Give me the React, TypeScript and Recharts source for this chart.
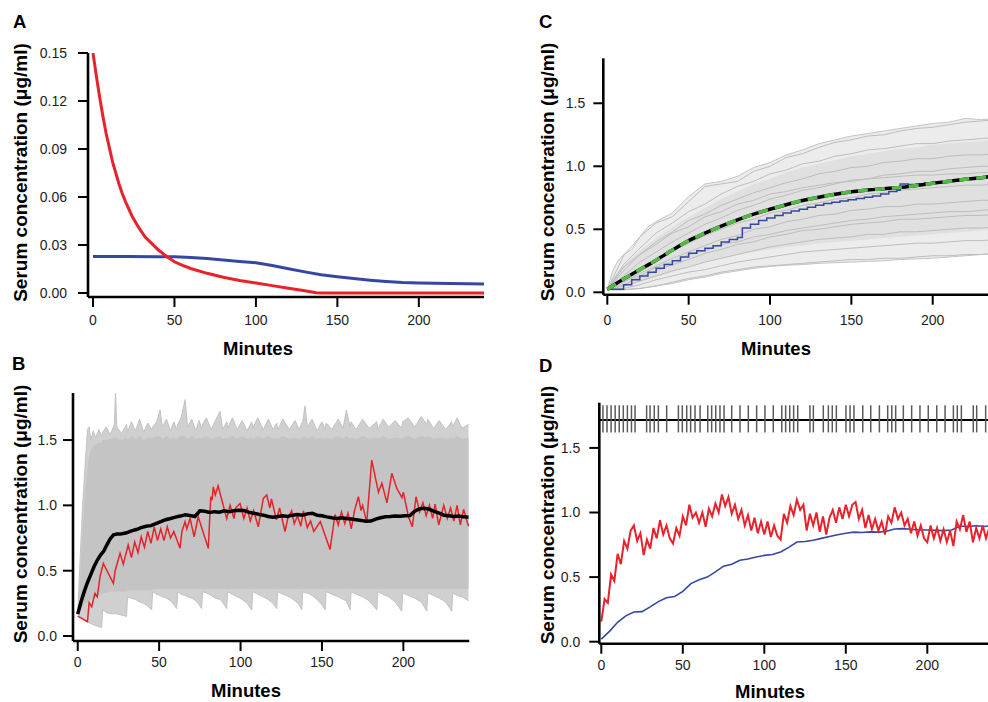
import React from "react";
import { ComposedChart, Line, Area, XAxis, YAxis, ReferenceLine } from "recharts";

type Pt = [number, number];

const FONT = '"Liberation Sans", Arial, Helvetica, sans-serif';
const RED = "#e8222b";
const BLUE = "#3647a3";
const GREEN = "#55b848";

const minuteTicks = [0, 50, 100, 150, 200];

// ---- Panel A: deterministic decay curves
const aTicks = [0, 0.03, 0.06, 0.09, 0.12, 0.15];
const aRed: Pt[] = [
  [0, 0.15], [2, 0.136], [4, 0.123], [6, 0.111], [8, 0.1], [10, 0.091], [12, 0.082],
  [14, 0.075], [16, 0.068], [18, 0.062], [20, 0.057], [24, 0.048], [28, 0.041],
  [32, 0.035], [36, 0.031], [40, 0.027], [45, 0.023], [50, 0.0195], [55, 0.0172],
  [60, 0.0153], [70, 0.0123], [80, 0.0098], [90, 0.0078], [100, 0.0062], [110, 0.0046],
  [120, 0.003], [130, 0.0014], [137, 0.0002], [140, 0], [160, 0], [200, 0], [240, 0],
];
const aBlue: Pt[] = [
  [0, 0.0228], [20, 0.0228], [40, 0.0227], [50, 0.0226], [60, 0.0222], [70, 0.0215],
  [80, 0.0207], [90, 0.0197], [100, 0.0189], [110, 0.0172], [120, 0.0152], [130, 0.0132],
  [140, 0.0114], [150, 0.0101], [160, 0.009], [170, 0.008], [180, 0.0072], [190, 0.0066],
  [200, 0.0063], [220, 0.0059], [240, 0.0056],
];

// ---- Panel B: simulated runs (envelope), mean, one run
const concTicks = [0, 0.5, 1, 1.5];
// t, outer low, outer high, dense low, dense high
const bBand: number[][] = [
  [0, 0.165, 0.18, 0.17, 0.175], [1.5, 0.15, 0.6, 0.19, 0.45], [3, 0.14, 1.0, 0.22, 0.8],
  [4.5, 0.125, 1.3, 0.25, 1.1], [6, 0.11, 1.58, 0.26, 1.3], [7, 0.1, 1.6, 0.27, 1.38],
  [8, 0.095, 1.5, 0.28, 1.42], [9.5, 0.088, 1.57, 0.29, 1.45], [11, 0.08, 1.52, 0.3, 1.47],
  [13, 0.072, 1.58, 0.31, 1.48], [14.7, 0.065, 1.53, 0.32, 1.48], [15.3, 0.2, 1.56, 0.33, 1.5],
  [17.5, 0.18, 1.6, 0.33, 1.5], [20, 0.17, 1.54, 0.34, 1.51], [22.5, 0.17, 1.62, 0.34, 1.52],
  [23.2, 0.17, 1.87, 0.34, 1.52], [24, 0.17, 1.6, 0.34, 1.52], [27, 0.16, 1.55, 0.34, 1.5],
  [30, 0.15, 1.62, 0.34, 1.52], [30.6, 0.3, 1.56, 0.35, 1.5], [33, 0.29, 1.64, 0.35, 1.53],
  [35.5, 0.28, 1.57, 0.35, 1.51], [38, 0.26, 1.66, 0.35, 1.53], [40.5, 0.25, 1.56, 0.35, 1.5],
  [43, 0.23, 1.63, 0.35, 1.52], [45.4, 0.2, 1.58, 0.35, 1.51], [46, 0.34, 1.6, 0.36, 1.52],
  [48.5, 0.32, 1.64, 0.36, 1.53], [50.6, 0.31, 1.73, 0.36, 1.53], [52, 0.3, 1.6, 0.36, 1.51],
  [54.5, 0.29, 1.66, 0.36, 1.53], [57, 0.27, 1.57, 0.36, 1.51], [59, 0.24, 1.64, 0.36, 1.52],
  [60.8, 0.21, 1.58, 0.36, 1.51], [61.4, 0.34, 1.62, 0.36, 1.52], [63.5, 0.32, 1.67, 0.36, 1.53],
  [66, 0.31, 1.81, 0.36, 1.53], [67.5, 0.3, 1.6, 0.36, 1.51], [70, 0.29, 1.66, 0.36, 1.53],
  [72.5, 0.27, 1.57, 0.36, 1.51], [74.5, 0.24, 1.65, 0.36, 1.52], [76.1, 0.21, 1.59, 0.36, 1.51],
  [76.7, 0.34, 1.62, 0.36, 1.52], [79, 0.33, 1.67, 0.36, 1.53], [82, 0.31, 1.58, 0.36, 1.51],
  [84.5, 0.29, 1.65, 0.36, 1.52], [87.4, 0.28, 1.72, 0.36, 1.53], [89, 0.26, 1.58, 0.36, 1.51],
  [91.5, 0.21, 1.64, 0.36, 1.52], [92.1, 0.34, 1.59, 0.36, 1.51], [95, 0.32, 1.67, 0.36, 1.53],
  [98, 0.3, 1.58, 0.36, 1.51], [101, 0.28, 1.65, 0.36, 1.53], [104, 0.25, 1.57, 0.36, 1.51],
  [106.9, 0.2, 1.64, 0.36, 1.52], [107.5, 0.34, 1.59, 0.36, 1.51], [110.5, 0.32, 1.67, 0.36, 1.53],
  [114, 0.3, 1.58, 0.36, 1.51], [117, 0.28, 1.66, 0.36, 1.53], [120, 0.25, 1.58, 0.36, 1.51],
  [122.2, 0.21, 1.63, 0.36, 1.52], [122.8, 0.34, 1.58, 0.36, 1.51], [126, 0.32, 1.66, 0.36, 1.53],
  [130, 0.3, 1.58, 0.36, 1.51], [133.5, 0.27, 1.65, 0.36, 1.52], [136, 0.24, 1.58, 0.36, 1.51],
  [137.6, 0.2, 1.63, 0.36, 1.52], [138.2, 0.34, 1.64, 0.36, 1.52], [139.6, 0.33, 1.76, 0.36, 1.53],
  [141, 0.33, 1.6, 0.36, 1.51], [144, 0.31, 1.66, 0.36, 1.53], [147, 0.28, 1.57, 0.36, 1.51],
  [150, 0.24, 1.64, 0.36, 1.52], [152, 0.2, 1.58, 0.36, 1.51], [152.6, 0.34, 1.63, 0.36, 1.52],
  [156, 0.32, 1.58, 0.36, 1.51], [160, 0.3, 1.66, 0.36, 1.53], [163, 0.28, 1.59, 0.36, 1.51],
  [165, 0.27, 1.73, 0.36, 1.53], [167.3, 0.2, 1.6, 0.36, 1.51], [167.9, 0.34, 1.64, 0.36, 1.52],
  [171, 0.32, 1.58, 0.36, 1.51], [175, 0.3, 1.66, 0.36, 1.53], [179, 0.27, 1.59, 0.36, 1.51],
  [183.7, 0.2, 1.64, 0.36, 1.52], [184.3, 0.34, 1.58, 0.36, 1.51], [187.5, 0.32, 1.66, 0.36, 1.53],
  [191, 0.3, 1.6, 0.36, 1.51], [195, 0.26, 1.65, 0.36, 1.52], [199, 0.19, 1.59, 0.36, 1.51],
  [199.6, 0.33, 1.64, 0.36, 1.52], [203, 0.31, 1.67, 0.36, 1.53], [207, 0.29, 1.6, 0.36, 1.51],
  [211, 0.26, 1.68, 0.36, 1.53], [214.4, 0.19, 1.62, 0.36, 1.52], [215, 0.33, 1.66, 0.36, 1.53],
  [218.5, 0.31, 1.59, 0.36, 1.51], [222, 0.29, 1.65, 0.36, 1.52], [226, 0.26, 1.58, 0.36, 1.51],
  [229.7, 0.19, 1.64, 0.36, 1.52], [230.3, 0.33, 1.6, 0.36, 1.51], [233, 0.31, 1.67, 0.36, 1.53],
  [236, 0.3, 1.59, 0.36, 1.51], [240, 0.27, 1.62, 0.36, 1.52],
];
const bMean: Pt[] = [
  [0, 0.168], [2, 0.26], [4, 0.34], [6, 0.41], [8, 0.47], [10, 0.53], [12, 0.58], [14, 0.62],
  [16, 0.65], [18, 0.7], [20, 0.745], [22, 0.775], [24, 0.78], [26, 0.78], [28, 0.785],
  [30, 0.79], [33, 0.805], [36, 0.815], [39, 0.83], [42, 0.84], [45, 0.845], [48, 0.86],
  [51, 0.875], [54, 0.89], [57, 0.9], [60, 0.91], [63, 0.918], [66, 0.928], [69, 0.922],
  [72, 0.915], [75, 0.958], [78, 0.955], [81, 0.945], [84, 0.952], [87, 0.948], [90, 0.958],
  [93, 0.952], [96, 0.958], [99, 0.962], [102, 0.96], [105, 0.948], [108, 0.94], [111, 0.932],
  [114, 0.925], [117, 0.915], [120, 0.91], [123, 0.915], [126, 0.92], [129, 0.915],
  [132, 0.925], [135, 0.93], [138, 0.925], [141, 0.935], [144, 0.94], [147, 0.925],
  [150, 0.92], [153, 0.912], [156, 0.905], [159, 0.9], [162, 0.905], [165, 0.9], [168, 0.895],
  [171, 0.89], [174, 0.885], [177, 0.878], [180, 0.88], [183, 0.895], [186, 0.905],
  [189, 0.913], [192, 0.915], [195, 0.918], [198, 0.916], [201, 0.92], [204, 0.922],
  [207, 0.955], [210, 0.975], [213, 0.978], [216, 0.97], [219, 0.955], [222, 0.94],
  [225, 0.925], [228, 0.92], [231, 0.915], [234, 0.918], [237, 0.912], [240, 0.91],
];
const bRed: Pt[] = [
  [0, 0.153], [6, 0.11], [7, 0.255], [8.6, 0.225], [10.6, 0.327], [12, 0.3], [13.7, 0.454],
  [15.7, 0.556], [21.9, 0.403], [23, 0.5], [26, 0.633], [28, 0.55], [29, 0.6], [31, 0.696],
  [33, 0.6], [35, 0.72], [37, 0.64], [39, 0.76], [41, 0.68], [43, 0.8], [45, 0.71],
  [47, 0.836], [49, 0.73], [51, 0.82], [53, 0.73], [55, 0.836], [57, 0.75], [59, 0.8],
  [62.8, 0.671], [64, 0.8], [65.9, 0.875], [67, 0.82], [69, 0.9], [71.5, 0.76], [74, 0.913],
  [80.2, 0.671], [81.7, 1.066], [82.5, 1.04], [83.3, 1.142], [84.5, 1.08], [86.2, 1.15],
  [91.5, 0.9], [93.6, 1.0], [96, 0.9], [97, 0.98], [99.7, 1.015], [102, 0.9], [104, 0.98],
  [106, 0.88], [108, 0.96], [110.9, 0.836], [114, 1.053], [116.1, 1.079], [118, 0.98],
  [119, 1.05], [122, 0.89], [124, 0.98], [127.3, 0.8], [129, 0.9], [131.4, 0.958], [133, 0.86],
  [135, 0.92], [137, 0.84], [138.6, 0.958], [141, 0.83], [143, 0.88], [145, 0.8], [149, 0.875],
  [155, 0.663], [158, 0.93], [160, 0.85], [162, 0.95], [164, 0.86], [166, 0.94], [168, 0.82],
  [170, 0.96], [172.4, 1.066], [174, 0.96], [175, 1.0], [177.5, 0.87], [180.6, 1.347],
  [184.7, 1.1], [186.8, 1.17], [189.9, 1.02], [192.9, 1.245], [196, 1.13], [199.1, 1.06],
  [200, 1.1], [203.2, 0.908], [205.5, 0.836], [207.8, 1.066], [210, 0.95], [212, 1.02],
  [214, 0.92], [216, 1.0], [218, 0.9], [219.5, 1.01], [221.7, 0.85], [224.8, 1.0],
  [227, 0.9], [229, 0.98], [231, 0.88], [233, 1.0], [235, 0.85], [237, 0.97], [240, 0.84],
];

// ---- Panel C: slow-release runs
const cTimes = [0, 10, 20, 30, 40, 50, 60, 70, 80, 90, 100, 110, 120, 130, 140, 150, 160, 170, 180, 190, 200, 210, 220, 230, 240];
// t, outer low, outer high, dense low, dense high
const cBand: number[][] = [
  [0, 0.02, 0.02, 0.02, 0.02], [3, 0.02, 0.16, 0.025, 0.1], [6, 0.02, 0.24, 0.03, 0.16],
  [10, 0.02, 0.3, 0.04, 0.21], [15, 0.025, 0.34, 0.06, 0.27], [20, 0.03, 0.44, 0.08, 0.33],
  [25, 0.04, 0.52, 0.1, 0.38], [30, 0.05, 0.56, 0.12, 0.43], [40, 0.07, 0.63, 0.16, 0.52],
  [50, 0.1, 0.76, 0.2, 0.6], [60, 0.12, 0.86, 0.24, 0.67], [70, 0.15, 0.88, 0.27, 0.74],
  [80, 0.17, 0.92, 0.3, 0.8], [90, 0.19, 0.99, 0.32, 0.86], [100, 0.205, 1.03, 0.34, 0.9],
  [110, 0.215, 1.09, 0.36, 0.95], [120, 0.22, 1.13, 0.37, 0.99], [130, 0.23, 1.18, 0.39, 1.02],
  [140, 0.235, 1.21, 0.4, 1.05], [150, 0.24, 1.24, 0.41, 1.08], [160, 0.245, 1.26, 0.42, 1.1],
  [170, 0.25, 1.28, 0.43, 1.12], [180, 0.26, 1.3, 0.44, 1.14], [190, 0.265, 1.32, 0.45, 1.15],
  [200, 0.27, 1.34, 0.46, 1.17], [210, 0.28, 1.35, 0.47, 1.18], [220, 0.29, 1.38, 0.48, 1.19],
  [230, 0.3, 1.37, 0.49, 1.2], [240, 0.305, 1.38, 0.5, 1.21],
];
const cGrey1 = [0.02, 0.29, 0.44, 0.55, 0.6, 0.72, 0.84, 0.86, 0.88, 0.96, 1.0, 1.07, 1.1, 1.15, 1.19, 1.21, 1.24, 1.25, 1.28, 1.3, 1.31, 1.33, 1.35, 1.36, 1.37];
const cGrey2 = [0.02, 0.22, 0.35, 0.47, 0.55, 0.64, 0.7, 0.78, 0.84, 0.88, 0.94, 0.97, 1.02, 1.04, 1.08, 1.1, 1.13, 1.14, 1.16, 1.18, 1.18, 1.2, 1.21, 1.22, 1.23];
const cGrey3 = [0.02, 0.17, 0.3, 0.4, 0.48, 0.57, 0.62, 0.69, 0.74, 0.79, 0.83, 0.87, 0.9, 0.94, 0.96, 0.99, 1.0, 1.03, 1.04, 1.06, 1.06, 1.08, 1.09, 1.09, 1.1];
const cGrey4 = [0.02, 0.13, 0.24, 0.32, 0.4, 0.47, 0.54, 0.59, 0.65, 0.69, 0.74, 0.77, 0.81, 0.83, 0.86, 0.89, 0.9, 0.93, 0.94, 0.96, 0.96, 0.98, 0.99, 1.0, 1.0];
const cGrey5 = [0.02, 0.1, 0.18, 0.26, 0.33, 0.39, 0.45, 0.5, 0.55, 0.58, 0.63, 0.65, 0.69, 0.71, 0.74, 0.75, 0.78, 0.79, 0.81, 0.82, 0.83, 0.84, 0.85, 0.85, 0.86];
const cGrey6 = [0.02, 0.08, 0.15, 0.21, 0.27, 0.32, 0.37, 0.42, 0.45, 0.5, 0.52, 0.56, 0.58, 0.61, 0.62, 0.65, 0.66, 0.68, 0.68, 0.7, 0.7, 0.71, 0.72, 0.73, 0.73];
const cGrey7 = [0.02, 0.06, 0.12, 0.17, 0.22, 0.26, 0.31, 0.34, 0.38, 0.4, 0.44, 0.46, 0.49, 0.5, 0.52, 0.54, 0.55, 0.56, 0.58, 0.58, 0.59, 0.6, 0.61, 0.61, 0.62];
const cGrey8 = [0.02, 0.05, 0.09, 0.13, 0.17, 0.2, 0.24, 0.27, 0.3, 0.33, 0.36, 0.38, 0.4, 0.42, 0.43, 0.44, 0.46, 0.46, 0.48, 0.48, 0.49, 0.5, 0.51, 0.51, 0.52];
const cGrey9 = [0.02, 0.03, 0.06, 0.1, 0.13, 0.16, 0.18, 0.21, 0.24, 0.26, 0.28, 0.3, 0.32, 0.33, 0.34, 0.35, 0.36, 0.37, 0.38, 0.39, 0.39, 0.4, 0.41, 0.41, 0.42];
const cGrey10 = [0.02, 0.02, 0.03, 0.05, 0.08, 0.11, 0.13, 0.16, 0.18, 0.2, 0.21, 0.22, 0.23, 0.24, 0.25, 0.26, 0.26, 0.27, 0.27, 0.28, 0.29, 0.29, 0.3, 0.3, 0.31];
const cGrey11 = [0.02, 0.2, 0.3, 0.38, 0.47, 0.52, 0.6, 0.64, 0.7, 0.73, 0.78, 0.8, 0.83, 0.85, 0.87, 0.88, 0.9, 0.91, 0.92, 0.93, 0.93, 0.94, 0.94, 0.95, 0.95];
const cGrey12 = [0.02, 0.09, 0.13, 0.2, 0.24, 0.3, 0.33, 0.38, 0.4, 0.44, 0.46, 0.49, 0.51, 0.53, 0.55, 0.57, 0.58, 0.6, 0.61, 0.62, 0.63, 0.64, 0.64, 0.65, 0.66];
const cGreyRuns = [cGrey1, cGrey2, cGrey3, cGrey4, cGrey5, cGrey6, cGrey7, cGrey8, cGrey9, cGrey10, cGrey11, cGrey12];
const cMean = [0.024, 0.105, 0.18, 0.255, 0.335, 0.41, 0.47, 0.525, 0.575, 0.62, 0.659, 0.695, 0.728, 0.755, 0.778, 0.798, 0.812, 0.822, 0.832, 0.848, 0.865, 0.882, 0.897, 0.91, 0.925];
const cBlue: Pt[] = [
  [0, 0.024], [5, 0.024], [10, 0.06], [15, 0.1], [20, 0.13], [25, 0.16], [30, 0.19],
  [35, 0.22], [40, 0.25], [45, 0.28], [50, 0.31], [55, 0.33], [60, 0.35], [65, 0.37],
  [70, 0.4], [75, 0.42], [80, 0.435], [83, 0.51], [88, 0.54], [93, 0.57], [98, 0.59],
  [103, 0.61], [108, 0.63], [113, 0.645], [118, 0.66], [123, 0.675], [128, 0.69],
  [133, 0.705], [138, 0.715], [143, 0.725], [148, 0.735], [153, 0.745], [158, 0.755],
  [163, 0.765], [168, 0.78], [173, 0.8], [178, 0.81], [180, 0.86], [185, 0.855],
  [190, 0.86], [195, 0.87], [200, 0.878], [205, 0.872], [210, 0.885], [215, 0.89],
  [220, 0.9], [225, 0.905], [230, 0.915], [235, 0.92], [240, 0.93],
];

// ---- Panel D: one subject, dosing times
const dRed: Pt[] = [
  [0, 0.155], [2, 0.33], [4, 0.3], [6, 0.52], [8, 0.47], [10, 0.68], [12, 0.6], [14, 0.78],
  [16, 0.72], [18, 0.86], [20, 0.9], [22, 0.78], [24, 0.84], [26, 0.67], [28, 0.79], [30, 0.72],
  [32, 0.88], [34, 0.8], [36, 0.94], [38, 0.83], [40, 0.9], [42, 0.8], [44, 0.76], [46, 0.88],
  [48, 0.82], [50, 0.97], [52, 0.9], [54, 1.06], [56, 0.96], [58, 1.0], [60, 0.92], [62, 1.0],
  [64, 0.89], [66, 1.03], [68, 0.97], [70, 1.07], [72, 1.0], [74, 1.14], [76, 1.05], [78, 1.12],
  [80, 0.99], [82, 1.06], [84, 0.95], [86, 1.02], [88, 0.9], [90, 0.98], [92, 0.86], [94, 0.96],
  [96, 0.84], [98, 0.93], [100, 0.83], [102, 0.93], [104, 0.81], [106, 0.9], [108, 0.82],
  [110, 0.79], [112, 0.99], [114, 0.92], [116, 1.05], [118, 0.98], [120, 1.1], [122, 1.02],
  [124, 1.06], [126, 0.86], [128, 0.99], [130, 0.9], [132, 1.0], [134, 0.85], [136, 0.97],
  [138, 0.83], [140, 0.96], [142, 1.02], [144, 0.92], [146, 1.04], [148, 0.95], [150, 1.06],
  [152, 0.97], [154, 1.06], [156, 1.08], [158, 0.95], [160, 1.02], [162, 0.88], [164, 0.98],
  [166, 0.87], [168, 0.95], [170, 0.86], [172, 0.93], [174, 0.83], [176, 0.97], [178, 0.92],
  [180, 1.04], [182, 0.95], [184, 1.0], [186, 0.9], [188, 0.95], [190, 0.84], [192, 0.93],
  [194, 0.82], [196, 0.9], [198, 0.8], [200, 0.77], [202, 0.9], [204, 0.8], [206, 0.88],
  [208, 0.78], [210, 0.87], [212, 0.77], [214, 0.86], [216, 0.74], [218, 0.93], [220, 0.87],
  [222, 0.98], [224, 0.85], [226, 0.93], [228, 0.77], [230, 0.88], [232, 0.8], [234, 0.9],
  [236, 0.8], [238, 0.88], [240, 0.8],
];
const dBlue: Pt[] = [
  [0, 0.02], [5, 0.08], [10, 0.15], [15, 0.2], [20, 0.23], [25, 0.233], [30, 0.27], [35, 0.31],
  [40, 0.34], [45, 0.35], [50, 0.39], [55, 0.45], [60, 0.48], [65, 0.5], [70, 0.54],
  [75, 0.585], [80, 0.6], [85, 0.63], [90, 0.64], [95, 0.655], [100, 0.668], [105, 0.675],
  [110, 0.695], [115, 0.73], [120, 0.772], [125, 0.775], [130, 0.785], [135, 0.8],
  [140, 0.815], [145, 0.828], [150, 0.84], [155, 0.848], [160, 0.845], [165, 0.85],
  [170, 0.848], [175, 0.855], [180, 0.872], [185, 0.875], [190, 0.87], [195, 0.865],
  [200, 0.865], [205, 0.862], [210, 0.86], [215, 0.865], [220, 0.895], [225, 0.892],
  [230, 0.898], [235, 0.892], [240, 0.9],
];
const dRug = [
  1, 3.5, 6, 8.5, 11, 13.5, 16, 18.5, 20.7, 27.8, 29.9, 32.5, 35, 40.1, 47.3, 49.7, 52.4,
  54.8, 57.5, 60.6, 65.3, 67.7, 70.2, 72.8, 75.3, 80, 85.1, 90.2, 95.3, 100.4, 105.5, 110.7,
  113.1, 115.6, 118, 120.5, 128, 130.1, 136.2, 139.3, 141.7, 144.2, 150.1, 152.6, 155,
  160.4, 165.3, 170.6, 175.7, 178.2, 180.6, 185.3, 190.4, 195.5, 200.6, 205.8, 210.9, 216,
  218.4, 220.9, 228.2, 230.3, 235.8,
];

const pts = (p: Pt[]) => p.map(([t, v]) => ({ t, v }));
const onGrid = (vals: number[]) => vals.map((v, i) => ({ t: cTimes[i], v }));
const band = (rows: number[][]) =>
  rows.map(([t, lo, hi, ilo, ihi]) => ({ t, outer: [lo, hi], inner: [ilo, ihi] }));

const H = 702;
const Y_W = 60;
const X_H = 40;

type Box = { left: number; top: number; right: number; bottom: number; width: number };
const chartMargin = (b: Box) => ({
  top: b.top,
  left: b.left - Y_W,
  right: b.width - b.right,
  bottom: H - b.bottom - X_H,
});

const tickFont = { fontSize: 14, fill: "#1c1c1c", fontFamily: FONT };
const axisLine = { stroke: "#000", strokeWidth: 2.6 };
const tickLine = { stroke: "#000", strokeWidth: 2 };

function axes(
  xDomain: [number, number],
  yDomain: [number, number],
  yTicks: number[],
  digits: number,
  xGap: number,
  yGap: number
) {
  return [
    <XAxis
      key="x"
      type="number"
      dataKey="t"
      domain={xDomain}
      ticks={minuteTicks}
      interval={0}
      allowDataOverflow
      height={X_H}
      tickSize={10}
      tickMargin={xGap}
      tick={tickFont}
      axisLine={axisLine}
      tickLine={tickLine}
    />,
    <YAxis
      key="y"
      type="number"
      domain={yDomain}
      ticks={yTicks}
      interval={0}
      allowDataOverflow
      width={Y_W}
      tickSize={10}
      tickMargin={yGap}
      tick={tickFont}
      axisLine={axisLine}
      tickLine={tickLine}
      tickFormatter={(v: number) => v.toFixed(digits)}
    />,
  ];
}

const abs: React.CSSProperties = { position: "absolute", left: 0, top: 0 };

function PanelA() {
  const box = { left: 88, top: 53, right: 484, bottom: 297, width: 494 };
  return (
    <div style={abs}>
      <ComposedChart width={box.width} height={H} margin={chartMargin(box)}>
        {axes([-3.07, 240], [-0.0025, 0.15], aTicks, 2, 8, 11)}
        <Line data={pts(aBlue)} dataKey="v" stroke={BLUE} strokeWidth={3} dot={false} activeDot={false} isAnimationActive={false} />
        <Line data={pts(aRed)} dataKey="v" stroke={RED} strokeWidth={3} dot={false} activeDot={false} isAnimationActive={false} />
      </ComposedChart>
    </div>
  );
}

function PanelB() {
  const box = { left: 73, top: 393, right: 469.3, bottom: 641, width: 494 };
  return (
    <div style={abs}>
      <ComposedChart width={box.width} height={H} margin={chartMargin(box)} data={band(bBand)}>
        {axes([-2.9, 240.5], [-0.038, 1.86], concTicks, 1, 6, 6)}
        <Area dataKey="outer" type="linear" fill="#d0d0d0" fillOpacity={1} stroke="#c2c2c2" strokeWidth={1} dot={false} activeDot={false} isAnimationActive={false} />
        <Area dataKey="inner" type="linear" fill="#c4c4c4" fillOpacity={1} stroke="none" dot={false} activeDot={false} isAnimationActive={false} />
        <Line data={pts(bRed)} dataKey="v" stroke={RED} strokeWidth={1.5} dot={false} activeDot={false} isAnimationActive={false} />
        <Line data={pts(bMean)} dataKey="v" stroke="#000" strokeWidth={3.5} dot={false} activeDot={false} isAnimationActive={false} />
      </ComposedChart>
    </div>
  );
}

function PanelC() {
  const box = { left: 603.3, top: 58.3, right: 997.8, bottom: 294.7, width: 1010 };
  return (
    <div style={abs}>
      <ComposedChart width={box.width} height={H} margin={chartMargin(box)} data={band(cBand)}>
        {axes([-2.46, 240], [-0.019, 1.857], concTicks, 1, 10, 8)}
        <Area dataKey="outer" type="linear" fill="#ececec" fillOpacity={1} stroke="#c4c4c4" strokeWidth={1} dot={false} activeDot={false} isAnimationActive={false} />
        <Area dataKey="inner" type="linear" fill="#e0e0e0" fillOpacity={1} stroke="none" dot={false} activeDot={false} isAnimationActive={false} />
        {cGreyRuns.map((run, i) => (
          <Line key={i} data={onGrid(run)} dataKey="v" stroke="#bdbdbd" strokeWidth={1} dot={false} activeDot={false} isAnimationActive={false} />
        ))}
        <Line data={pts(cBlue)} dataKey="v" type="stepAfter" stroke={BLUE} strokeWidth={1.5} dot={false} activeDot={false} isAnimationActive={false} />
        <Line data={onGrid(cMean)} dataKey="v" type="monotone" stroke="#000" strokeWidth={3.5} dot={false} activeDot={false} isAnimationActive={false} />
        <Line data={onGrid(cMean)} dataKey="v" type="monotone" stroke={GREEN} strokeWidth={3.5} strokeDasharray="10 7" dot={false} activeDot={false} isAnimationActive={false} />
      </ComposedChart>
    </div>
  );
}

function PanelD() {
  const box = { left: 599.3, top: 402.7, right: 992.5, bottom: 643.7, width: 1010 };
  return (
    <div style={abs}>
      <ComposedChart width={box.width} height={H} margin={chartMargin(box)}>
        {axes([-1.23, 240], [-0.0155, 1.85], concTicks, 1, 6, 9)}
        <ReferenceLine y={1.716} stroke="#000" strokeWidth={2} />
        {dRug.map((t, i) => (
          <ReferenceLine key={i} segment={[{ x: t, y: 1.62 }, { x: t, y: 1.83 }]} stroke="#5a5a5a" strokeWidth={1.5} />
        ))}
        <Line data={pts(dBlue)} dataKey="v" stroke={BLUE} strokeWidth={1.6} dot={false} activeDot={false} isAnimationActive={false} />
        <Line data={pts(dRed)} dataKey="v" stroke={RED} strokeWidth={2} dot={false} activeDot={false} isAnimationActive={false} />
      </ComposedChart>
    </div>
  );
}

const YLABEL = "Serum concentration (\u03bcg/ml)";

function Labels() {
  const bold = { fontWeight: 700, fill: "#000" } as const;
  const yLab = (cx: number, cy: number) => (
    <text transform={`translate(${cx},${cy}) rotate(-90)`} textAnchor="middle" dominantBaseline="central" fontSize={19} {...bold}>
      {YLABEL}
    </text>
  );
  return (
    <svg width={988} height={H} style={{ ...abs, pointerEvents: "none" }} fontFamily={FONT}>
      <text x={13} y={28} fontSize={18.5} {...bold}>A</text>
      <text x={12} y={370} fontSize={18.5} {...bold}>B</text>
      <text x={539} y={28} fontSize={18.5} {...bold}>C</text>
      <text x={539} y={372} fontSize={18.5} {...bold}>D</text>
      {yLab(20, 172.5)}
      {yLab(20, 514)}
      {yLab(547, 172)}
      {yLab(547, 515)}
      <text x={258} y={355} textAnchor="middle" fontSize={18.5} {...bold}>Minutes</text>
      <text x={246} y={697} textAnchor="middle" fontSize={18.5} {...bold}>Minutes</text>
      <text x={776} y={355} textAnchor="middle" fontSize={18.5} {...bold}>Minutes</text>
      <text x={770} y={698} textAnchor="middle" fontSize={18.5} {...bold}>Minutes</text>
    </svg>
  );
}

export default function App() {
  return (
    <div
      style={{
        position: "fixed",
        left: 0,
        top: 0,
        width: 988,
        height: H,
        overflow: "hidden",
        background: "#fff",
        fontFamily: FONT,
      }}
    >
      <PanelB />
      <PanelA />
      <PanelD />
      <PanelC />
      <Labels />
    </div>
  );
}
